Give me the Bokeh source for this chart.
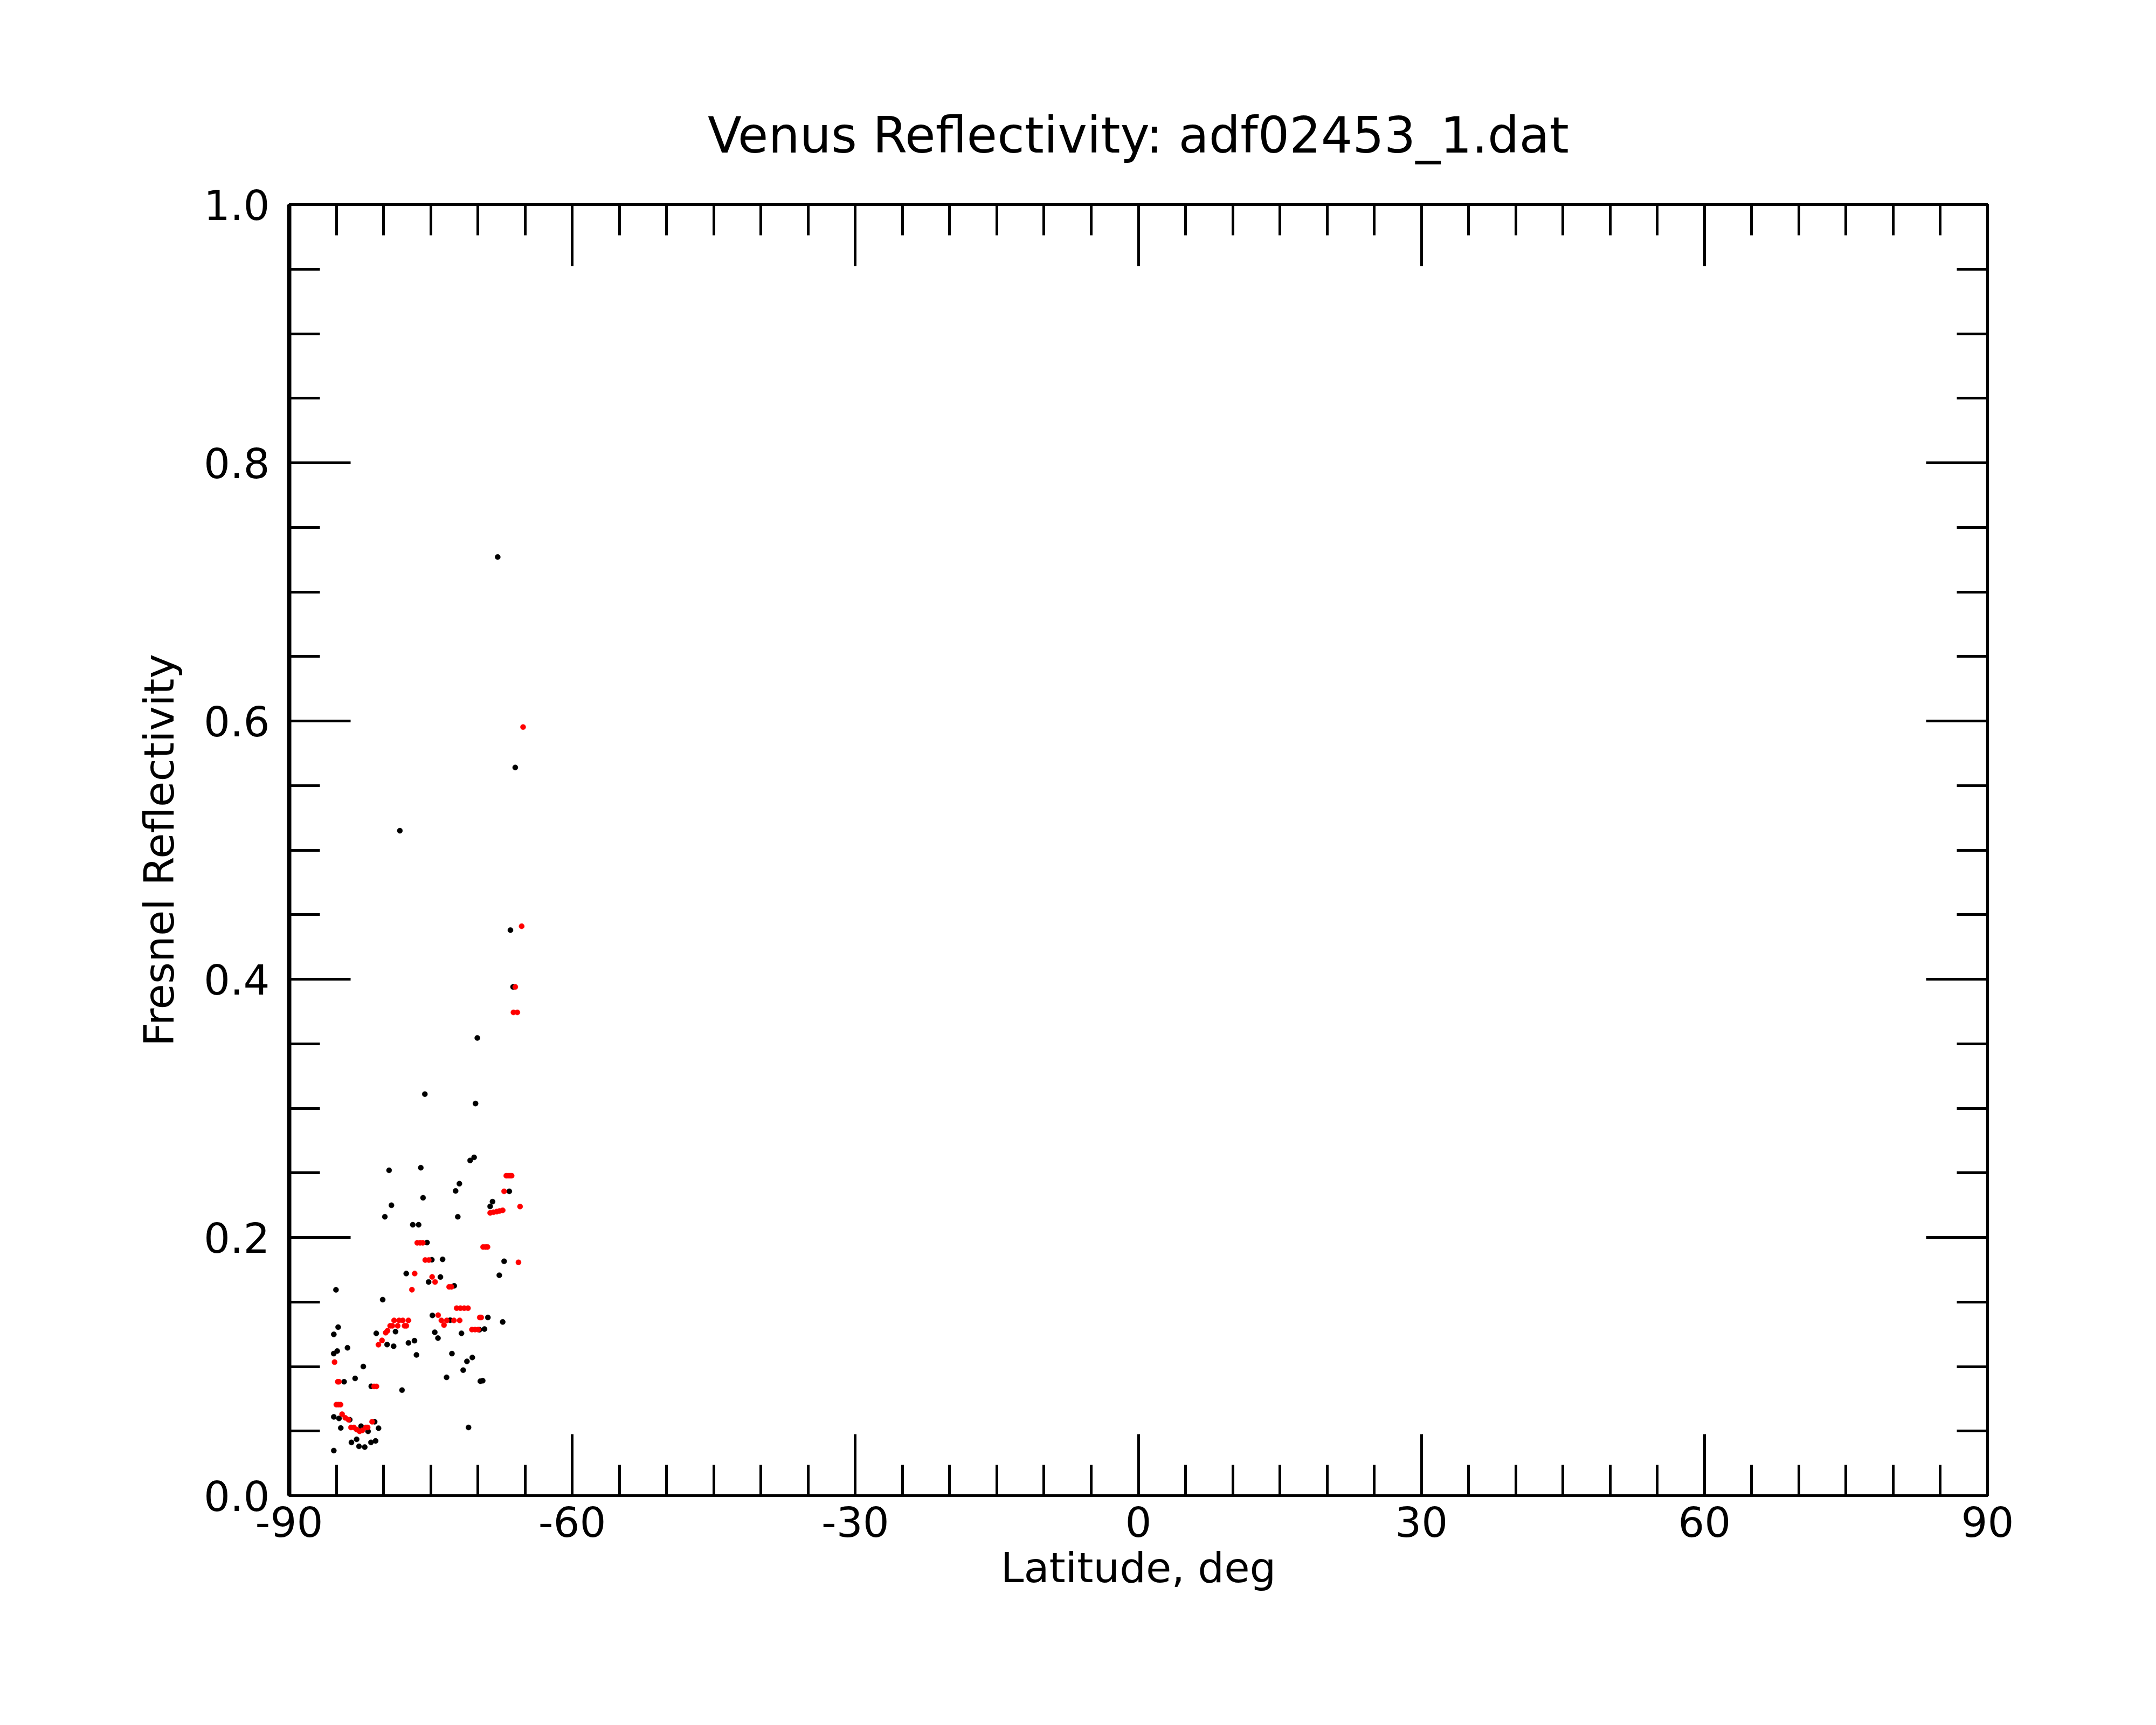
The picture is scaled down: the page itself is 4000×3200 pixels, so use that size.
from bokeh.plotting import figure
from bokeh.models import LinearAxis, FixedTicker, CustomJSTickFormatter, Range1d
from bokeh.embed import file_html
from bokeh.resources import INLINE

# ---- data: raw measurements (black) ----
raw_lat = [-67.90, -66.04, -78.27, -66.55, -66.27, -70.06, -75.62, -70.25,
           -70.82, -70.40, -79.41, -76.05, -71.96, -72.36, -66.67, -68.45, -68.70,
           -79.16, -75.81, -79.86, -72.13, -76.90, -76.28, -75.39, -74.88, -73.74,
           -77.59, -73.97, -75.22, -72.51, -67.22, -67.73, -85.04, -80.09, -74.82,
           -72.94, -68.94, -67.37, -84.81, -85.27, -80.77, -78.73, -74.57, -71.74,
           -69.83, -69.30, -74.23, -77.36, -76.72, -79.62, -78.93, -85.28, -84.91,
           -83.82, -76.51, -72.75, -71.16, -70.59, -71.56, -82.14, -73.32, -69.74,
           -69.49, -83.01, -84.18, -81.30, -78.04, -85.27, -84.72, -83.58, -84.53,
           -82.38, -81.64, -80.94, -80.53, -70.99, -83.40, -82.85, -82.60, -81.99,
           -81.33, -80.84, -85.27]
raw_refl = [0.727, 0.564, 0.515, 0.438, 0.394, 0.3545, 0.311, 0.3037,
            0.2596, 0.262, 0.252, 0.254, 0.2416, 0.236, 0.2357, 0.2277, 0.224,
            0.2249, 0.2307, 0.216, 0.216, 0.2098, 0.2098, 0.196, 0.1827, 0.183,
            0.172, 0.1693, 0.1655, 0.1625, 0.1815, 0.1707, 0.1594, 0.1518, 0.1396,
            0.1359, 0.138, 0.1345, 0.1305, 0.1249, 0.1257, 0.127, 0.1265, 0.1257,
            0.1285, 0.129, 0.122, 0.1183, 0.120, 0.117, 0.1157, 0.110, 0.112,
            0.1145, 0.109, 0.110, 0.104, 0.107, 0.0972, 0.100, 0.0916, 0.0886,
            0.089, 0.0908, 0.0882, 0.0847, 0.0817, 0.061, 0.0598, 0.0588, 0.0524,
            0.0538, 0.0498, 0.0572, 0.0522, 0.0528, 0.0412, 0.0436, 0.0382, 0.0376,
            0.0412, 0.0424, 0.0349]

# ---- data: smoothed values (red) ----
fit_lat = [-65.21, -65.36, -66.04, -66.23, -65.82,
           -66.99, -66.80, -66.60, -66.42, -67.22, -65.53,
           -68.70, -68.35, -68.00, -67.70, -67.37,
           -76.43, -76.13, -75.84, -69.45, -69.20, -68.98,
           -75.58, -75.20, -65.70, -76.70, -74.85, -74.54,
           -73.05, -72.80, -76.99,
           -72.25, -71.85, -71.45, -71.05, -74.21,
           -73.87, -73.59, -73.30, -72.54, -71.93,
           -69.80, -69.65, -70.63, -70.30, -69.97,
           -78.88, -78.35, -77.96, -77.36,
           -79.30, -79.07, -78.50, -77.77, -77.58,
           -79.77, -79.58, -80.16, -80.54,
           -85.19, -84.85, -84.72, -81.00, -80.75,
           -85.00, -84.78, -84.56, -84.39, -84.05, -83.71,
           -83.45, -83.14, -82.85, -82.54, -82.25,
           -81.87, -81.68, -81.21]
fit_refl = [0.5953, 0.441, 0.394, 0.3743, 0.3743,
            0.2478, 0.2478, 0.2478, 0.2478, 0.2357, 0.2239,
            0.219, 0.2195, 0.220, 0.2205, 0.221,
            0.1958, 0.1958, 0.1958, 0.1926, 0.1926, 0.1926,
            0.1825, 0.1825, 0.1807, 0.172, 0.1694, 0.1655,
            0.1617, 0.1617, 0.1595,
            0.1452, 0.1452, 0.1452, 0.1452, 0.1398,
            0.1357, 0.1321, 0.1357, 0.1357, 0.1357,
            0.138, 0.138, 0.1286, 0.1286, 0.1286,
            0.1357, 0.1357, 0.1357, 0.1357,
            0.1315, 0.1315, 0.1315, 0.1315, 0.1315,
            0.1262, 0.1277, 0.1202, 0.1169,
            0.1034, 0.0882, 0.0882, 0.0846, 0.0846,
            0.0705, 0.0705, 0.0705, 0.0631, 0.0602, 0.0588,
            0.0528, 0.0528, 0.0512, 0.0498, 0.0505,
            0.0528, 0.0528, 0.0572]

x_major = [-90, -60, -30, 0, 30, 60, 90]
x_minor = list(range(-90, 91, 5))
y_major = [0.0, 0.2, 0.4, 0.6, 0.8, 1.0]
y_minor = [i * 0.05 for i in range(21)]

title_text = "Venus Reflectivity: adf02453_1.dat"
x_label = "Latitude, deg"
y_label = "Fresnel Reflectivity"

FONT = "DejaVu Sans"

p = figure(width=3980, height=3180, x_range=Range1d(-90, 90), y_range=Range1d(0, 1),
           output_backend="svg", toolbar_location=None,
           x_axis_location=None, y_axis_location=None,
           min_border_left=536, min_border_right=293,
           min_border_top=379, min_border_bottom=406,
           title=title_text)
p.grid.grid_line_color = None
p.title.text_font = FONT
p.title.text_font_size = "92px"
p.title.text_font_style = "normal"
p.title.text_color = "black"
p.title.align = "center"
p.title.standoff = 150
p.outline_line_color = "black"
p.outline_line_width = 5
p.background_fill_color = "white"
p.border_fill_color = "white"

def style(ax, major, minor, fmt, lw=5):
    ax.ticker = FixedTicker(ticks=major, minor_ticks=minor)
    ax.formatter = fmt
    ax.axis_line_color = "black"
    ax.axis_line_width = lw
    ax.major_tick_in = 114
    ax.major_tick_out = 0
    ax.minor_tick_in = 57
    ax.minor_tick_out = 0
    ax.major_tick_line_width = 5
    ax.minor_tick_line_width = 5
    ax.major_tick_line_color = "black"
    ax.minor_tick_line_color = "black"
    ax.major_label_text_font = FONT
    ax.major_label_text_font_size = "77px"
    ax.major_label_text_color = "black"
    ax.axis_label_text_font = FONT
    ax.axis_label_text_font_size = "77px"
    ax.axis_label_text_font_style = "normal"
    ax.axis_label_text_color = "black"

blank = CustomJSTickFormatter(code="return ''")

xb = LinearAxis(axis_label=x_label)
style(xb, x_major, x_minor, CustomJSTickFormatter(code="return tick.toFixed(0)"))
xb.major_label_standoff = 20
xb.axis_label_standoff = 10
p.add_layout(xb, "below")

xt = LinearAxis()
style(xt, x_major, x_minor, blank)
p.add_layout(xt, "above")

yl = LinearAxis(axis_label=y_label)
style(yl, y_major, y_minor, CustomJSTickFormatter(code="return tick.toFixed(1)"), lw=8)
yl.major_label_standoff = 36
yl.axis_label_standoff = 35
p.add_layout(yl, "left")

yr = LinearAxis()
style(yr, y_major, y_minor, blank)
p.add_layout(yr, "right")

p.scatter(raw_lat, raw_refl, marker="circle", size=10, fill_color="black", line_color="black", line_width=0.5)
p.scatter(fit_lat, fit_refl, marker="circle", size=10, fill_color="red", line_color="red", line_width=0.5)

open("out.html", "w").write(file_html(p, INLINE))
